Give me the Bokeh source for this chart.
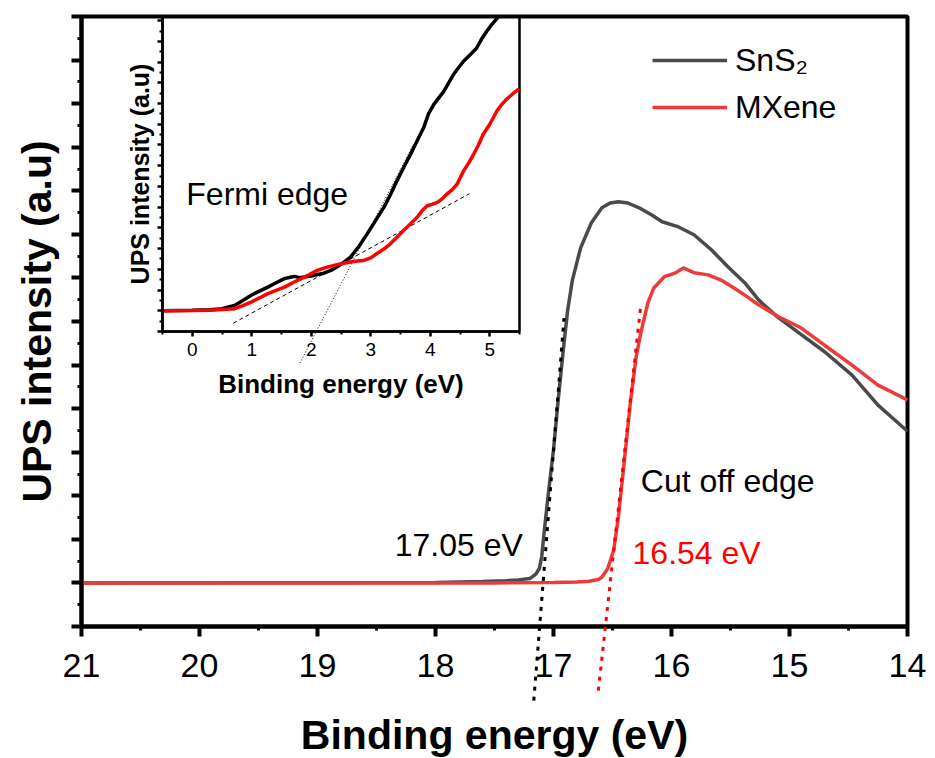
from bokeh.plotting import figure
from bokeh.models import (Range1d, FixedTicker, CustomJSTickFormatter, Legend, LegendItem,
                          Label, GridBox, Spacer, Column)
from bokeh.embed import file_html
from bokeh.resources import INLINE

FONT = "Liberation Sans"

# ---------------- main spectrum (secondary-electron cut-off) ----------------
sns2_E = [21.0, 19.0, 18.0, 17.6, 17.4, 17.3, 17.2, 17.15, 17.12, 17.1, 17.08, 17.05, 17.02, 17.0,
          16.96, 16.92, 16.88, 16.84, 16.77, 16.68, 16.59, 16.52, 16.45, 16.37, 16.26, 16.17, 16.08,
          15.94, 15.81, 15.66, 15.52, 15.38, 15.26, 15.1, 14.9, 14.7, 14.47, 14.25, 14.0]
sns2_I = [0.0, 0.005, 0.01, 0.03, 0.05, 0.07, 0.1, 0.2, 0.33, 0.6, 1.14, 1.9, 2.6, 3.05,
          4.2, 5.27, 6.26, 6.95, 7.69, 8.26, 8.61, 8.72, 8.75, 8.72, 8.59, 8.45, 8.29,
          8.17, 7.99, 7.64, 7.25, 6.89, 6.49, 6.1, 5.7, 5.3, 4.77, 4.08, 3.48]

mxene_E = [21.0, 19.0, 17.5, 17.0, 16.8, 16.7, 16.62, 16.59, 16.54, 16.49, 16.45, 16.42, 16.39,
           16.35, 16.30, 16.26, 16.20, 16.15, 16.06, 15.97, 15.90, 15.81, 15.69, 15.58, 15.47,
           15.36, 15.26, 15.1, 14.9, 14.7, 14.47, 14.25, 14.0]
mxene_I = [0.0, 0.0, 0.0, 0.01, 0.02, 0.04, 0.08, 0.13, 0.33, 0.75, 1.51, 2.28, 3.05,
           4.1, 5.18, 5.74, 6.43, 6.77, 7.03, 7.11, 7.23, 7.12, 7.07, 6.95, 6.77,
           6.57, 6.38, 6.12, 5.85, 5.45, 5.0, 4.54, 4.2]

# tangent (onset) lines on the cut-off edges
sns2_tan_E = [17.167, 16.911]
sns2_tan_I = [-2.70, 6.08]
mxene_tan_E = [16.62, 16.26]
mxene_tan_I = [-2.47, 6.38]

main_x_ticks = [21, 20, 19, 18, 17, 16, 15, 14]
main_x_minor = [20.5, 19.5, 18.5, 17.5, 16.5, 15.5, 14.5]
main_y_ticks = list(range(-1, 14))
main_y_minor = [k + 0.5 for k in range(-1, 13)]

# ---------------- inset (Fermi edge) ----------------
in_sns2_E = [-0.5, 0.0, 0.3, 0.5, 0.71, 0.85, 0.99, 1.13, 1.27, 1.41, 1.55, 1.65, 1.72, 1.8, 1.88,
             2.0, 2.1, 2.2, 2.33, 2.45, 2.55, 2.66, 2.8, 2.94, 3.08, 3.22, 3.33, 3.44, 3.56, 3.67,
             3.78, 3.89, 3.97, 4.06, 4.15, 4.23, 4.31, 4.39, 4.48, 4.56, 4.67, 4.78, 4.86, 4.95,
             5.03, 5.12, 5.2]
in_sns2_I = [0.0, 0.02, 0.05, 0.1, 0.26, 0.5, 0.75, 0.95, 1.14, 1.35, 1.55, 1.62, 1.66, 1.6, 1.63,
             1.68, 1.75, 1.8, 1.95, 2.15, 2.35, 2.59, 3.1, 3.71, 4.35, 4.99, 5.6, 6.27, 6.95, 7.56,
             8.2, 8.84, 9.5, 9.96, 10.3, 10.6, 11.0, 11.4, 11.75, 12.04, 12.35, 12.68, 13.1, 13.49,
             13.8, 14.1, 14.5]
in_mx_E = [-0.5, 0.0, 0.3, 0.5, 0.71, 0.85, 0.99, 1.13, 1.27, 1.41, 1.55, 1.69, 1.83, 1.97, 2.1,
           2.24, 2.38, 2.52, 2.66, 2.77, 2.88, 3.0, 3.1, 3.22, 3.33, 3.44, 3.55, 3.67, 3.78, 3.87,
           3.95, 4.04, 4.12, 4.2, 4.28, 4.37, 4.45, 4.56, 4.65, 4.73, 4.81, 4.89, 5.0, 5.12, 5.2,
           5.28, 5.38, 5.48, 5.5]
in_mx_I = [0.0, 0.01, 0.03, 0.06, 0.1, 0.25, 0.42, 0.62, 0.83, 0.98, 1.14, 1.35, 1.55, 1.75, 1.95,
           2.08, 2.19, 2.28, 2.35, 2.4, 2.43, 2.55, 2.75, 2.98, 3.23, 3.55, 3.87, 4.2, 4.51, 4.85,
           5.07, 5.15, 5.23, 5.4, 5.63, 5.85, 6.11, 6.75, 7.15, 7.56, 8.0, 8.52, 9.0, 9.64, 9.95,
           10.2, 10.45, 10.68, 10.72]
in_dash_E = [0.69, 4.66]
in_dash_I = [-0.6, 5.65]
in_dot_E = [1.81, 3.72]
in_dot_I = [-2.52, 8.04]

in_x_ticks = [0, 1, 2, 3, 4, 5]
in_x_minor = [-0.5, 0.5, 1.5, 2.5, 3.5, 4.5, 5.5]
in_y_ticks = list(range(-1, 15))
in_y_minor = [k + 0.5 for k in range(-1, 14)]

GRAY = "#4a4a4a"
RED = "#ec3b3b"

W, H = 935, 758
M_LEFT, M_RIGHT, M_TOP, M_BOTTOM = 81, 28, 16, 132
IN_OFF_X = 110
IN_W, IN_H = 415, 405
IN_LEFT, IN_RIGHT, IN_TOP, IN_BOTTOM = 52, 6, 16, 74

# ================= main figure =================
p = figure(width=W, height=H, output_backend="svg", toolbar_location=None,
           x_range=Range1d(21, 14), y_range=Range1d(-1, 13),
           min_border_left=M_LEFT, min_border_right=M_RIGHT,
           min_border_top=M_TOP, min_border_bottom=M_BOTTOM)
p.grid.visible = False
p.background_fill_color = "white"
p.border_fill_color = "white"
p.outline_line_color = "black"
p.outline_line_width = 4
p.outline_line_alpha = 1.0

r1 = p.line(sns2_E, sns2_I, line_color=GRAY, line_width=3.5)
r2 = p.line(mxene_E, mxene_I, line_color=RED, line_width=3.5)

xa = p.xaxis[0]
xa.ticker = FixedTicker(ticks=main_x_ticks, minor_ticks=main_x_minor)
xa.major_label_text_font = FONT
xa.major_label_text_font_size = "34px"
xa.major_label_text_color = "black"
xa.major_label_standoff = 17

ya = p.yaxis[0]
ya.ticker = FixedTicker(ticks=main_y_ticks, minor_ticks=main_y_minor)
ya.formatter = CustomJSTickFormatter(code="return ''")
ya.axis_label = "UPS intensity (a.u)"
ya.axis_label_text_font = FONT
ya.axis_label_text_font_style = "bold"
ya.axis_label_text_font_size = "41px"
ya.axis_label_text_color = "black"
ya.axis_label_standoff = 12

for ax in (xa, ya):
    ax.axis_line_width = 4
    ax.axis_line_color = "black"
    ax.major_tick_out = 10
    ax.major_tick_in = 0
    ax.minor_tick_out = 4
    ax.minor_tick_in = 0
    ax.major_tick_line_width = 4
    ax.minor_tick_line_width = 3
    ax.major_tick_line_color = "black"
    ax.minor_tick_line_color = "black"

p.add_layout(Label(x=17.26, y=0.86, text="17.05 eV", text_align="right", text_baseline="middle",
                   text_font=FONT, text_font_size="32px", text_color="black"))
p.add_layout(Label(x=16.33, y=0.68, text="16.54 eV", text_align="left", text_baseline="middle",
                   text_font=FONT, text_font_size="32px", text_color="red"))
p.add_layout(Label(x=16.26, y=2.33, text="Cut off edge", text_align="left", text_baseline="middle",
                   text_font=FONT, text_font_size="32px", text_color="black"))

legend = Legend(items=[LegendItem(label="SnS₂", renderers=[r1]),
                       LegendItem(label="MXene", renderers=[r2])],
                location=(571, 499), glyph_width=75, glyph_height=40, label_height=40,
                label_standoff=8, spacing=7, padding=0, margin=0,
                border_line_color=None, background_fill_alpha=0,
                label_text_font=FONT, label_text_font_size="32px", label_text_color="black")
p.add_layout(legend)

# ================= inset figure =================
q = figure(width=IN_W, height=IN_H, output_backend="svg", toolbar_location=None,
           x_range=Range1d(-0.5, 5.5), y_range=Range1d(-1, 14.2),
           min_border_left=IN_LEFT, min_border_right=IN_RIGHT,
           min_border_top=IN_TOP, min_border_bottom=IN_BOTTOM)
q.grid.visible = False
q.background_fill_alpha = 0
q.border_fill_alpha = 0
q.outline_line_color = "black"
q.outline_line_width = 2.5
q.outline_line_alpha = 1.0

q.line(in_dash_E, in_dash_I, line_color="black", line_width=1, line_dash="4 3")
q.line(in_sns2_E, in_sns2_I, line_color="black", line_width=3.5)
q.line(in_mx_E, in_mx_I, line_color="red", line_width=3.5)

qx = q.xaxis[0]
qx.ticker = FixedTicker(ticks=in_x_ticks, minor_ticks=in_x_minor)
qx.axis_label = "Binding energy (eV)"
qx.axis_label_text_font = FONT
qx.axis_label_text_font_style = "bold"
qx.axis_label_text_font_size = "26px"
qx.axis_label_text_color = "black"
qx.axis_label_standoff = 10
qx.major_label_text_font = FONT
qx.major_label_text_font_size = "19px"
qx.major_label_text_color = "black"
qx.major_label_standoff = 6

qy = q.yaxis[0]
qy.ticker = FixedTicker(ticks=in_y_ticks, minor_ticks=in_y_minor)
qy.formatter = CustomJSTickFormatter(code="return ''")
qy.axis_label = "UPS intensity (a.u)"
qy.axis_label_text_font = FONT
qy.axis_label_text_font_style = "bold"
qy.axis_label_text_font_size = "25px"
qy.axis_label_text_color = "black"
qy.axis_label_standoff = 4

for ax in (qx, qy):
    ax.axis_line_width = 2.5
    ax.axis_line_color = "black"
    ax.major_tick_out = 5
    ax.major_tick_in = 0
    ax.minor_tick_out = 3
    ax.minor_tick_in = 0
    ax.major_tick_line_width = 2.5
    ax.minor_tick_line_width = 2
    ax.major_tick_line_color = "black"
    ax.minor_tick_line_color = "black"

q.add_layout(Label(x=-0.1, y=5.65, text="Fermi edge", text_align="left", text_baseline="middle",
                   text_font=FONT, text_font_size="32px", text_color="black"))

# ============ transparent overlay (lines that run past the axes, x title) ============
main_ppu = (H - M_TOP - M_BOTTOM) / (13 - (-1))          # px per main intensity unit
in_frame_x0 = IN_OFF_X + IN_LEFT
in_frame_x1 = IN_OFF_X + IN_W - IN_RIGHT
in_ppx = (in_frame_x1 - in_frame_x0) / (5.5 - (-0.5))
in_ppy = (IN_H - IN_TOP - IN_BOTTOM) / (14.2 - (-1))

o = figure(width=W, height=H, output_backend="svg", toolbar_location=None,
           x_range=Range1d(21, 14), y_range=Range1d(13 - (H - M_TOP) / main_ppu, 13),
           x_axis_location=None, y_axis_location=None,
           min_border_left=M_LEFT, min_border_right=M_RIGHT, min_border_top=M_TOP, min_border_bottom=0)
o.extra_x_ranges = {"inset": Range1d(-0.5 - (in_frame_x0 - M_LEFT) / in_ppx,
                                     5.5 + (W - M_RIGHT - in_frame_x1) / in_ppx)}
o.extra_y_ranges = {"inset": Range1d(14.2 - (H - IN_TOP) / in_ppy, 14.2)}
o.grid.visible = False
o.background_fill_alpha = 0
o.border_fill_alpha = 0
o.outline_line_color = None

o.line(sns2_tan_E, sns2_tan_I, line_color="black", line_width=3, line_dash="4 6")
o.line(mxene_tan_E, mxene_tan_I, line_color="red", line_width=3, line_dash="4 6")
o.line(in_dot_E, in_dot_I, x_range_name="inset", y_range_name="inset",
       line_color="black", line_width=1, line_dash="1 2")
o.add_layout(Label(x=17.5, y=-3.5, text="Binding energy (eV)", text_align="center",
                   text_baseline="middle", text_font=FONT, text_font_style="bold",
                   text_font_size="41px", text_color="black"))

overlay_child = o
if "frame_align" in o.properties():
    o.frame_align = False
    q.frame_align = False
else:
    overlay_child = Column(children=[o], spacing=0)

grid = GridBox(children=[(p, 0, 0, 2, 3),
                         (Spacer(width=IN_OFF_X, height=IN_H), 0, 0),
                         (q, 0, 1),
                         (Spacer(width=W - IN_OFF_X - IN_W, height=H - IN_H), 1, 2),
                         (overlay_child, 0, 0, 2, 3)],
               spacing=0)

open("out.html", "w").write(file_html(grid, INLINE))
